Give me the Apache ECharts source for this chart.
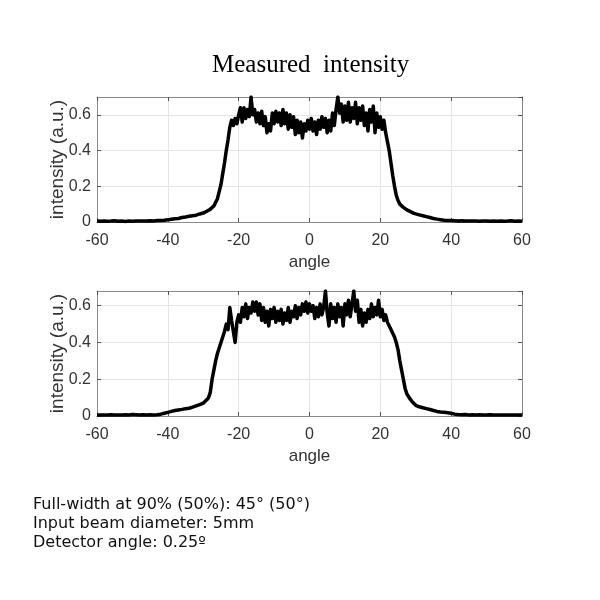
<!DOCTYPE html>
<html>
<head>
<meta charset="utf-8">
<script src="https://cdn.jsdelivr.net/npm/echarts@6/dist/echarts.min.js"></script>
<style>html,body{margin:0;padding:0;background:#fff;}#c{width:600px;height:600px;}</style>
</head>
<body>
<div id="c"></div>
<script>
const angles = [
-60,-59,-58,-57,-56,-55,-54,-53,-52,-51,-50,-49,-48,-47,-46,-45,-44,-43,-42,-41,-40,-39,-38,-37,-36,-35,-34,-33,-32,-31,-30,
-29.5,-29,-28.5,-28,-27.5,-27,-26.5,-26,-25.5,-25,-24.5,-24,-23.5,-23,-22.5,-22,-21.5,-21,-20.5,-20,
-19.5,-19,-18.5,-18,-17.5,-17,-16.5,-16,-15.5,-15,-14.5,-14,-13.5,-13,-12.5,-12,-11.5,-11,-10.5,-10,
-9.5,-9,-8.5,-8,-7.5,-7,-6.5,-6,-5.5,-5,-4.5,-4,-3.5,-3,-2.5,-2,-1.5,-1,-0.5,0,
0.5,1,1.5,2,2.5,3,3.5,4,4.5,5,5.5,6,6.5,7,7.5,8,8.5,9,9.5,10,
10.5,11,11.5,12,12.5,13,13.5,14,14.5,15,15.5,16,16.5,17,17.5,18,18.5,19,19.5,20,
20.5,21,21.5,22,22.5,23,23.5,24,24.5,25,25.5,26,26.5,27,27.5,28,28.5,29,29.5,
30,31,32,33,34,35,36,37,38,39,40,41,42,43,44,45,46,47,48,49,50,51,52,53,54,55,56,57,58,59,60
];
const intensityTop = [
0.005,0.004,0.006,0.004,0.005,0.007,0.004,0.005,0.003,0.005,0.004,0.006,0.005,0.006,0.005,0.007,0.006,0.008,0.009,0.01,0.012,0.015,0.018,0.02,0.025,0.028,0.032,0.035,0.038,0.045,0.05,
0.055,0.06,0.065,0.072,0.08,0.09,0.1,0.13,0.17,0.21,0.27,0.33,0.4,0.46,0.53,0.57,0.54,0.58,0.55,0.6,
0.64,0.56,0.64,0.58,0.63,0.59,0.7,0.6,0.63,0.56,0.61,0.55,0.62,0.54,0.59,0.5,0.55,0.51,0.61,0.55,
0.62,0.56,0.61,0.54,0.63,0.55,0.61,0.52,0.6,0.53,0.59,0.49,0.57,0.5,0.56,0.47,0.55,0.51,0.57,0.52,
0.58,0.51,0.56,0.49,0.57,0.52,0.59,0.53,0.58,0.5,0.57,0.51,0.61,0.54,0.63,0.7,0.61,0.66,0.56,0.65,
0.57,0.67,0.56,0.64,0.58,0.67,0.55,0.64,0.57,0.65,0.54,0.61,0.51,0.63,0.56,0.65,0.5,0.61,0.53,0.59,
0.52,0.57,0.5,0.45,0.4,0.33,0.26,0.2,0.15,0.12,0.1,0.09,0.082,0.075,0.068,0.062,0.058,0.052,0.048,
0.045,0.04,0.035,0.03,0.025,0.02,0.016,0.013,0.01,0.009,0.008,0.007,0.006,0.007,0.005,0.006,0.005,0.006,0.004,0.005,0.006,0.004,0.005,0.004,0.006,0.004,0.005,0.007,0.004,0.005,0.004
];
const intensityBottom = [
0.006,0.005,0.006,0.005,0.007,0.006,0.005,0.006,0.007,0.006,0.008,0.007,0.006,0.007,0.006,0.007,0.006,0.007,0.01,0.015,0.02,0.025,0.03,0.033,0.036,0.04,0.042,0.048,0.055,0.062,0.07,
0.078,0.088,0.1,0.13,0.2,0.25,0.3,0.34,0.37,0.4,0.43,0.46,0.5,0.47,0.59,0.52,0.46,0.4,0.51,0.55,
0.51,0.59,0.54,0.61,0.53,0.59,0.56,0.62,0.57,0.62,0.55,0.61,0.52,0.59,0.51,0.57,0.49,0.58,0.53,0.59,
0.51,0.57,0.52,0.58,0.5,0.56,0.52,0.59,0.51,0.57,0.54,0.6,0.53,0.59,0.55,0.61,0.57,0.62,0.56,0.61,
0.57,0.6,0.53,0.59,0.54,0.61,0.55,0.59,0.68,0.56,0.49,0.61,0.53,0.59,0.51,0.61,0.54,0.59,0.49,0.61,
0.55,0.63,0.54,0.61,0.68,0.57,0.63,0.51,0.58,0.49,0.56,0.51,0.58,0.53,0.61,0.54,0.59,0.55,0.63,0.54,
0.58,0.52,0.55,0.51,0.5,0.47,0.45,0.43,0.4,0.36,0.3,0.25,0.2,0.15,0.12,0.105,0.09,0.078,0.068,
0.058,0.05,0.045,0.04,0.035,0.03,0.025,0.022,0.02,0.018,0.015,0.01,0.008,0.007,0.008,0.006,0.007,0.006,0.007,0.005,0.006,0.007,0.005,0.006,0.005,0.006,0.005,0.006,0.005,0.006,0.005
];
const xTicks = {min: -60, max: 60, interval: 20};
const yTicks = {min: 0, interval: 0.2};
const yMaxTop = 0.7, yMaxBottom = 0.68;
const titleText = 'Measured  intensity';
const noteLines = ['Full-width at 90% (50%): 45° (50°)', 'Input beam diameter: 5mm', 'Detector angle: 0.25º'];

const pairs = ys => angles.map((a, i) => [a, ys[i]]);
const sans = 'Liberation Sans, Arial, sans-serif';
const axisFont = {fontFamily: sans, fontSize: 16, color: '#333'};
const axColor = '#8a8a8a';
function xAx(gi, pos) {
  const main = pos === 'bottom';
  return {
    type: 'value', gridIndex: gi, position: pos, min: xTicks.min, max: xTicks.max, interval: xTicks.interval,
    name: main ? 'angle' : '', nameLocation: 'middle', nameGap: 32, nameMoveOverlap: false,
    nameTextStyle: {fontFamily: sans, fontSize: 17, color: '#333'},
    axisLine: {show: true, onZero: false, lineStyle: {color: axColor, width: 1}},
    axisTick: {show: true, inside: true, length: 4, lineStyle: {color: '#555'}},
    axisLabel: Object.assign({show: main, margin: 11}, axisFont),
    splitLine: {show: main, lineStyle: {color: '#e4e4e4', width: 1}}
  };
}
function yAx(gi, mx, pos) {
  const main = pos === 'left';
  return {
    type: 'value', gridIndex: gi, position: pos, min: yTicks.min, max: mx, interval: yTicks.interval,
    name: main ? 'intensity (a.u.)' : '', nameLocation: 'middle', nameGap: 30, nameMoveOverlap: false,
    nameTextStyle: {fontFamily: sans, fontSize: 19, color: '#333'},
    axisLine: {show: true, onZero: false, lineStyle: {color: axColor, width: 1}},
    axisTick: {show: true, inside: true, length: 4, lineStyle: {color: '#555'}},
    axisLabel: Object.assign({show: main, margin: 6, showMaxLabel: false, formatter: v => String(v)}, axisFont),
    splitLine: {show: main, lineStyle: {color: '#e4e4e4', width: 1}}
  };
}
const chart = echarts.init(document.getElementById('c'), null, {renderer: 'canvas'});
chart.setOption({
  backgroundColor: '#fff',
  animation: false,
  title: [
    {text: titleText, left: 207, top: 48,
     textStyle: {fontFamily: 'Liberation Serif, Times New Roman, serif', fontSize: 25, fontWeight: 'normal', color: '#000'}},
    {text: noteLines.join('\n'), left: 28, top: 490,
     textStyle: {fontFamily: 'DejaVu Sans, Verdana, sans-serif', fontSize: 16, fontWeight: 'normal', color: '#111', lineHeight: 19}}
  ],
  grid: [
    {left: 97, width: 425, top: 97, height: 125},
    {left: 97, width: 425, top: 291, height: 125}
  ],
  xAxis: [xAx(0, 'bottom'), xAx(0, 'top'), xAx(1, 'bottom'), xAx(1, 'top')],
  yAxis: [yAx(0, yMaxTop, 'left'), yAx(0, yMaxTop, 'right'), yAx(1, yMaxBottom, 'left'), yAx(1, yMaxBottom, 'right')],
  series: [
    {type: 'line', xAxisIndex: 0, yAxisIndex: 0, data: pairs(intensityTop), showSymbol: false, clip: true,
     lineStyle: {color: '#000', width: 3.5, join: 'round'}},
    {type: 'line', xAxisIndex: 2, yAxisIndex: 2, data: pairs(intensityBottom), showSymbol: false, clip: true,
     lineStyle: {color: '#000', width: 3.5, join: 'round'}}
  ]
});
</script>
</body>
</html>
